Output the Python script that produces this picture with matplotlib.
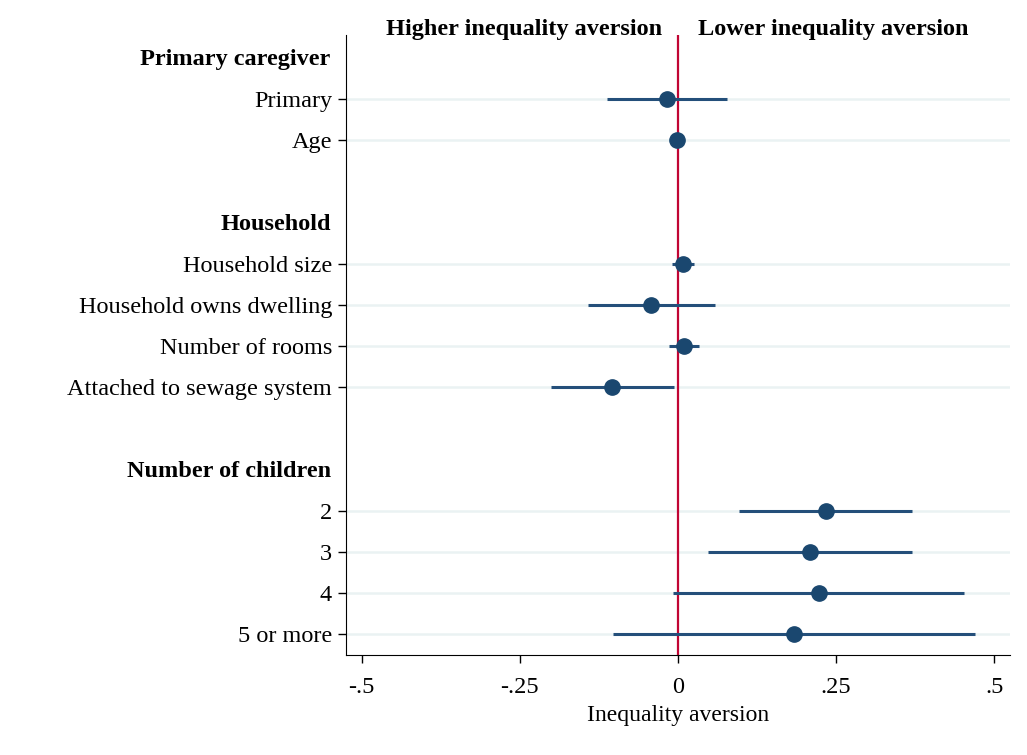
import matplotlib
matplotlib.use("Agg")
import matplotlib.pyplot as plt
import numpy as np

# ---- data ----
row_labels = ["Primary caregiver", "Primary", "Age", "",
              "Household", "Household size", "Household owns dwelling",
              "Number of rooms", "Attached to sewage system", "",
              "Number of children", "2", "3", "4", "5 or more"]
is_header = [True, False, False, None, True, False, False, False, False, None,
             True, False, False, False, False]
item_labels = ["Primary", "Age", "Household size", "Household owns dwelling",
               "Number of rooms", "Attached to sewage system",
               "2", "3", "4", "5 or more"]
estimates = [-0.017, -0.002, 0.008, -0.043, 0.010, -0.104, 0.234, 0.209, 0.223, 0.184]
ci_low = [-0.112, -0.004, -0.010, -0.142, -0.014, -0.201, 0.097, 0.048, -0.008, -0.103]
ci_high = [0.078, 0.000, 0.025, 0.059, 0.033, -0.006, 0.370, 0.370, 0.453, 0.470]
xticks = [-0.5, -0.25, 0, 0.25, 0.5]
xtick_labels = ["-.5", "-.25", "0", ".25", ".5"]

navy = "#1a476f"
ci_c = "#244f7a"
red = "#c10534"
grid_c = "#eaf2f3"
font = ["Liberation Serif", "DejaVu Serif"]
plt.rcParams["font.family"] = font
fs = 17.5

fig = plt.figure(figsize=(10.27, 7.55), dpi=100)
ax = fig.add_axes([346/1027, 100/755, (1010-346)/1027, (655-35)/755])

item_pos = [i for i, lab in enumerate(row_labels) if lab in item_labels and is_header[i] is False]
header_pos = [i for i, h in enumerate(is_header) if h is True]

for y in item_pos:
    ax.axhline(y, color=grid_c, lw=1.8, zorder=0)

ax.axvline(0, color=red, lw=1.6, zorder=1)
ax.hlines(item_pos, ci_low, ci_high, color=ci_c, lw=2.2, zorder=2)
ax.plot(estimates, item_pos, "o", color=navy, ms=11, zorder=3)

ax.set_xlim(-0.525, 0.525)
ax.set_ylim(14.5, -0.55)
ax.set_yticks(item_pos)
ax.set_yticklabels([row_labels[i] for i in item_pos], fontsize=fs)
ax.set_xticks(xticks)
ax.set_xticklabels(xtick_labels, fontsize=fs)
ax.tick_params(axis="y", length=6, width=1, pad=4)
ax.tick_params(axis="x", length=6, width=1, pad=10)
for y in header_pos:
    ax.text(-0.023, y + 0.05, row_labels[y], transform=ax.get_yaxis_transform(),
            ha="right", va="center", fontsize=fs, fontweight="bold")
ax.spines["top"].set_visible(False)
ax.spines["right"].set_visible(False)
ax.set_xlabel("Inequality aversion", fontsize=17, labelpad=5)

ax.text(-0.025, -0.68, "Higher inequality aversion", ha="right", va="center",
        fontsize=fs, fontweight="bold", clip_on=False)
ax.text(0.032, -0.68, "Lower inequality aversion", ha="left", va="center",
        fontsize=fs, fontweight="bold", clip_on=False)

fig.savefig("out.png", dpi=100, facecolor="white")
